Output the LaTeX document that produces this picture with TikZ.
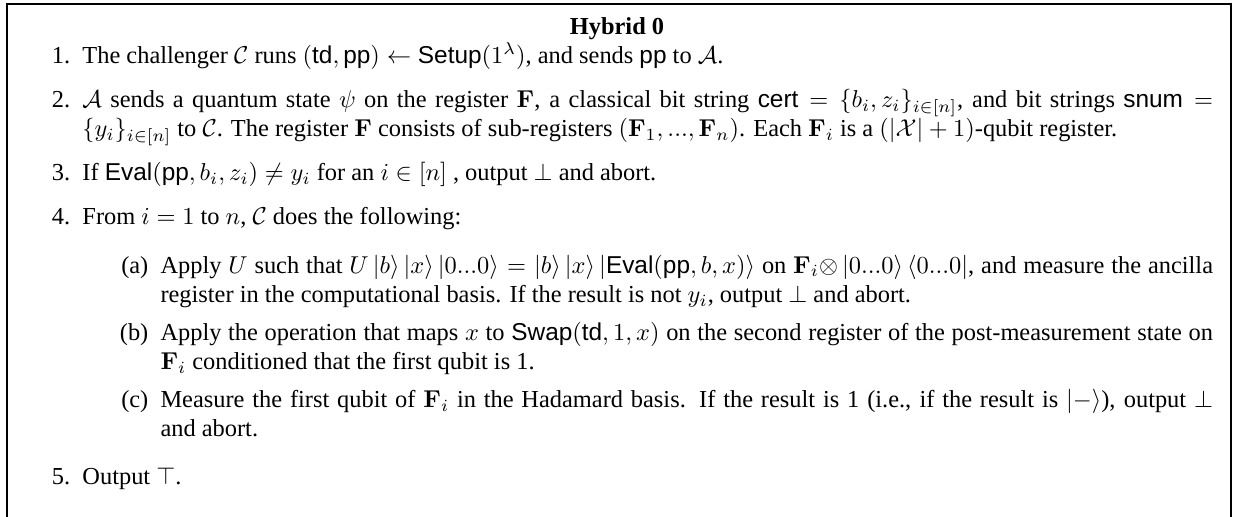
\documentclass[tikz,border=0pt]{standalone}
\usepackage{amsmath,amssymb}
\usepackage[no-math]{fontspec}
\setmainfont{Liberation Serif}[WordSpace={1,1.2,0.72}]
\setsansfont{Liberation Sans}
\usetikzlibrary{positioning}

\setlength{\leftmarginii}{32pt}
\makeatletter
\def\@listii{\leftmargin\leftmarginii \labelwidth\leftmarginii
  \advance\labelwidth-\labelsep \topsep 0pt \parsep 2pt \itemsep 1.5pt}
\makeatother

\newcommand{\algo}[1]{\textsf{#1}}
\newcommand{\qket}[1]{\left|#1\right\rangle}
\newcommand{\qbra}[1]{\left\langle#1\right|}
\newcommand{\looselist}{\setlength{\itemsep}{2pt}}

\begin{document}
\begin{tikzpicture}[
  frame/.style={line width=1.1pt},
  heading/.style={font=\bfseries, inner sep=0pt, anchor=base},
  steps/.style={inner sep=0pt, anchor=base west}
]
\useasboundingbox (0,0) rectangle (506.6pt,-211.9pt);

% frame, open at the bottom
\coordinate (bl) at (2.9pt,-211.9pt);
\coordinate (tl) at (2.9pt,-1.6pt);
\coordinate (tr) at (504.5pt,-1.6pt);
\coordinate (br) at (504.5pt,-211.9pt);
\draw[frame] (bl) -- (tl) -- (tr) -- (br);

% title
\node[heading] (title) at (252.9pt,-14.1pt) {Hybrid 0};

% the steps of the hybrid
\node[steps] (body) at (8.6pt,-26.1pt) {\begin{minipage}[t]{488.4pt}
\begin{enumerate}\looselist
\item The challenger $\mathcal{C}$ runs $(\algo{td},\algo{pp})\leftarrow\algo{Setup}(1^\lambda)$, and sends $\algo{pp}$ to $\mathcal{A}$.
\item $\mathcal{A}$ sends a quantum state $\psi$ on the register $\mathbf{F}$, a classical bit string $\algo{cert}=\{b_i,z_i\}_{i\in[n]}$, and bit strings $\algo{snum}=$\linebreak $\{y_i\}_{i\in[n]}$ to $\mathcal{C}$. The register $\mathbf{F}$ consists of sub-registers $(\mathbf{F}_1,...,\mathbf{F}_n)$. Each $\mathbf{F}_i$ is a $(|\mathcal{X}|+1)$-qubit register.
\item If $\algo{Eval}(\algo{pp},b_i,z_i)\neq y_i$ for an $i\in[n]$ , output $\bot$ and abort.
\item From $i=1$ to $n$, $\mathcal{C}$ does the following:\vspace{3.9pt}
\begin{enumerate}
\item Apply $U$ such that $U\qket{b}\qket{x}\qket{0...0}=\qket{b}\qket{x}\qket{\algo{Eval}(\algo{pp},b,x)}$ on $\mathbf{F}_i{\otimes}\qket{0...0}\qbra{0...0}$, and measure the ancilla\linebreak register in the computational basis. If the result is not $y_i$, output $\bot$ and abort.
\item Apply the operation that maps $x$ to $\algo{Swap}(\algo{td},1,x)$ on the second register of the post-measurement state on\linebreak $\mathbf{F}_i$ conditioned that the first qubit is 1.
\item Measure the first qubit of $\mathbf{F}_i$ in the Hadamard basis. If the result is 1 (i.e., if the result is $\qket{-}$), output $\bot$\linebreak and abort.
\end{enumerate}
\setlength{\itemsep}{3.5pt}
\item Output $\top$.
\end{enumerate}
\end{minipage}};
\end{tikzpicture}
\end{document}
